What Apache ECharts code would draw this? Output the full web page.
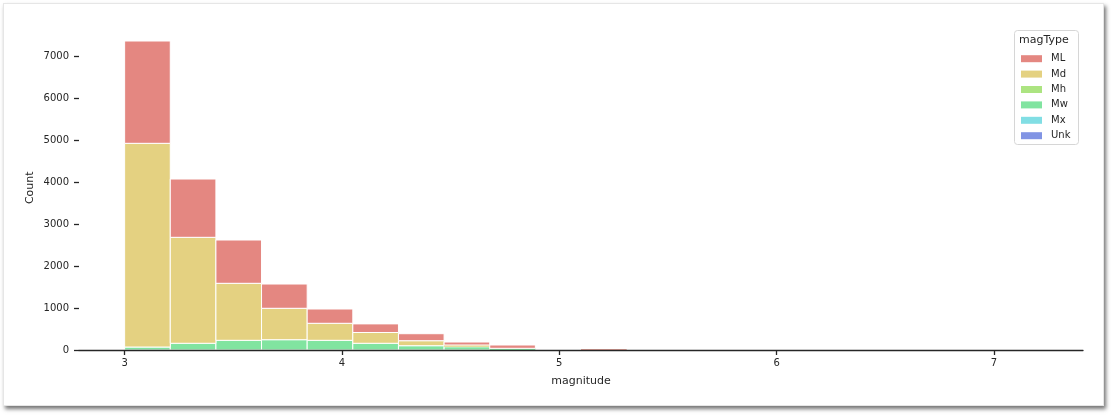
<!DOCTYPE html>
<html>
<head>
<meta charset="utf-8">
<script src="https://cdn.jsdelivr.net/npm/echarts@6/dist/echarts.min.js"></script>
<style>
html,body{margin:0;padding:0;background:#fff;}
#frame{position:absolute;left:3px;top:3px;width:1101px;height:403px;background:#fff;box-shadow:2px 3px 4px rgba(0,0,0,0.55);border:1px solid #e6e6e6;box-sizing:border-box;}
#chart{position:absolute;left:0;top:0;width:1111px;height:415px;}
</style>
</head>
<body>
<div id="frame"></div>
<div id="chart"></div>
<script>
// bins: start 3.0, width 0.21, 20 bins
const binStart = 3.0;
const binWidth = 0.21;
const magTypes = ['ML', 'Md', 'Mh', 'Mw', 'Mx', 'Unk'];
const colors = ['#e48781', '#e4d181', '#ace481', '#81e4a0', '#81dee4', '#8194e4'];
const countML  = [2436, 1388, 1031, 578, 340, 205, 167, 71, 79, 0, 20, 0, 0, 0, 0, 0, 0, 0, 0, 0];
const countMd  = [4850, 2523, 1357, 748, 405, 257, 119, 43, 5, 0, 0, 0, 0, 0, 0, 0, 0, 0, 0, 0];
const countMh  = [0, 0, 0, 0, 0, 0, 0, 0, 0, 0, 0, 0, 0, 0, 0, 0, 0, 0, 0, 0];
const countMw  = [71, 160, 231, 245, 231, 160, 102, 76, 35, 0, 5, 0, 0, 0, 0, 0, 0, 0, 0, 0];
const countMx  = [0, 0, 0, 0, 0, 0, 0, 0, 0, 0, 0, 0, 0, 0, 0, 0, 0, 0, 0, 0];
const countUnk = [0, 0, 0, 0, 0, 0, 0, 0, 0, 0, 0, 0, 0, 0, 0, 0, 0, 0, 0, 0];
const yTicks = [0, 1000, 2000, 3000, 4000, 5000, 6000, 7000];
const xTicks = [3, 4, 5, 6, 7];

const counts = {ML: countML, Md: countMd, Mh: countMh, Mw: countMw, Mx: countMx, Unk: countUnk};
const stackOrder = ['Unk', 'Mx', 'Mw', 'Mh', 'Md', 'ML']; // bottom to top
const nBins = countML.length;
const base = new Array(nBins).fill(0);
const seriesData = {};
stackOrder.forEach(t => {
  seriesData[t] = [];
  for (let i = 0; i < nBins; i++) {
    const v = counts[t][i];
    const x0 = +(binStart + i * binWidth).toFixed(4);
    const x1 = +(binStart + (i + 1) * binWidth).toFixed(4);
    if (v > 0) seriesData[t].push([x0, x1, base[i], base[i] + v]);
    base[i] += v;
  }
});
const ymax = Math.max(...base) * 1.05;
const xmin = binStart - 0.05 * nBins * binWidth;
const xmax = binStart + 1.05 * nBins * binWidth;

const txt = '#262626';
const font = 'DejaVu Sans';

function renderBin(color) {
  return function (params, api) {
    const p0 = api.coord([api.value(0), api.value(3)]);
    const p1 = api.coord([api.value(1), api.value(2)]);
    const h = p1[1] - p0[1];
    return {
      type: 'rect',
      shape: {x: p0[0], y: p0[1], width: p1[0] - p0[0], height: h},
      style: {fill: color, stroke: h > 2 ? '#ffffff' : null, lineWidth: 1}
    };
  };
}

const series = stackOrder.map(t => {
  const c = colors[magTypes.indexOf(t)];
  return {
    name: t,
    type: 'custom',
    z: -1,
    renderItem: renderBin(c),
    itemStyle: {color: c},
    encode: {x: [0, 1], y: [2, 3]},
    data: seriesData[t]
  };
});

const chart = echarts.init(document.getElementById('chart'), null, {renderer: 'canvas'});
chart.setOption({
  backgroundColor: 'transparent',
  animation: false,
  textStyle: {fontFamily: font, color: txt},
  grid: {left: 79, right: 28, top: 350 - ymax * 0.042, bottom: 65, containLabel: false},
  xAxis: {
    type: 'value', min: xmin, max: xmax, z: 10,
    axisLine: {show: true, onZero: false, lineStyle: {color: txt, width: 1.3}},
    axisTick: {show: true, length: 5, inside: false, customValues: xTicks, lineStyle: {color: txt, width: 1.3}},
    axisLabel: {customValues: xTicks, fontSize: 10, color: txt, margin: 8, fontFamily: font},
    splitLine: {show: false},
    name: 'magnitude', nameLocation: 'middle', nameGap: 26,
    nameTextStyle: {fontSize: 11, color: txt, fontFamily: font}
  },
  yAxis: {
    type: 'value', min: 0, max: ymax,
    axisLine: {show: false},
    axisTick: {show: true, length: 5, inside: false, customValues: yTicks, lineStyle: {color: txt, width: 1.3}},
    axisLabel: {customValues: yTicks, fontSize: 10, color: txt, margin: 10, fontFamily: font,
                formatter: v => String(Math.round(v))},
    splitLine: {show: false},
    name: 'Count', nameLocation: 'middle', nameGap: 43, nameRotate: 90, nameMoveOverlap: false,
    nameTextStyle: {fontSize: 11, color: txt, fontFamily: font}
  },
  graphic: [
    {type: 'rect', left: 1014, top: 30, z: 90,
     shape: {width: 64, height: 114, r: 3},
     style: {fill: 'rgba(255,255,255,0.8)', stroke: '#d6d6d6', lineWidth: 1}},
    {type: 'text', left: 1019, top: 35, z: 91,
     style: {text: 'magType', fontSize: 11, fill: txt, fontFamily: font}}
  ],
  legend: {
    orient: 'vertical', left: 1016, top: 51, z: 95,
    padding: [0, 5, 0, 5],
    icon: 'rect', itemWidth: 21, itemHeight: 7, itemGap: 0,
    selectedMode: false,
    data: magTypes,
    textStyle: {fontSize: 10, color: txt, fontFamily: font, lineHeight: 15.4, padding: [0, 0, 0, 4]}
  },
  series: series
});
</script>
</body>
</html>
